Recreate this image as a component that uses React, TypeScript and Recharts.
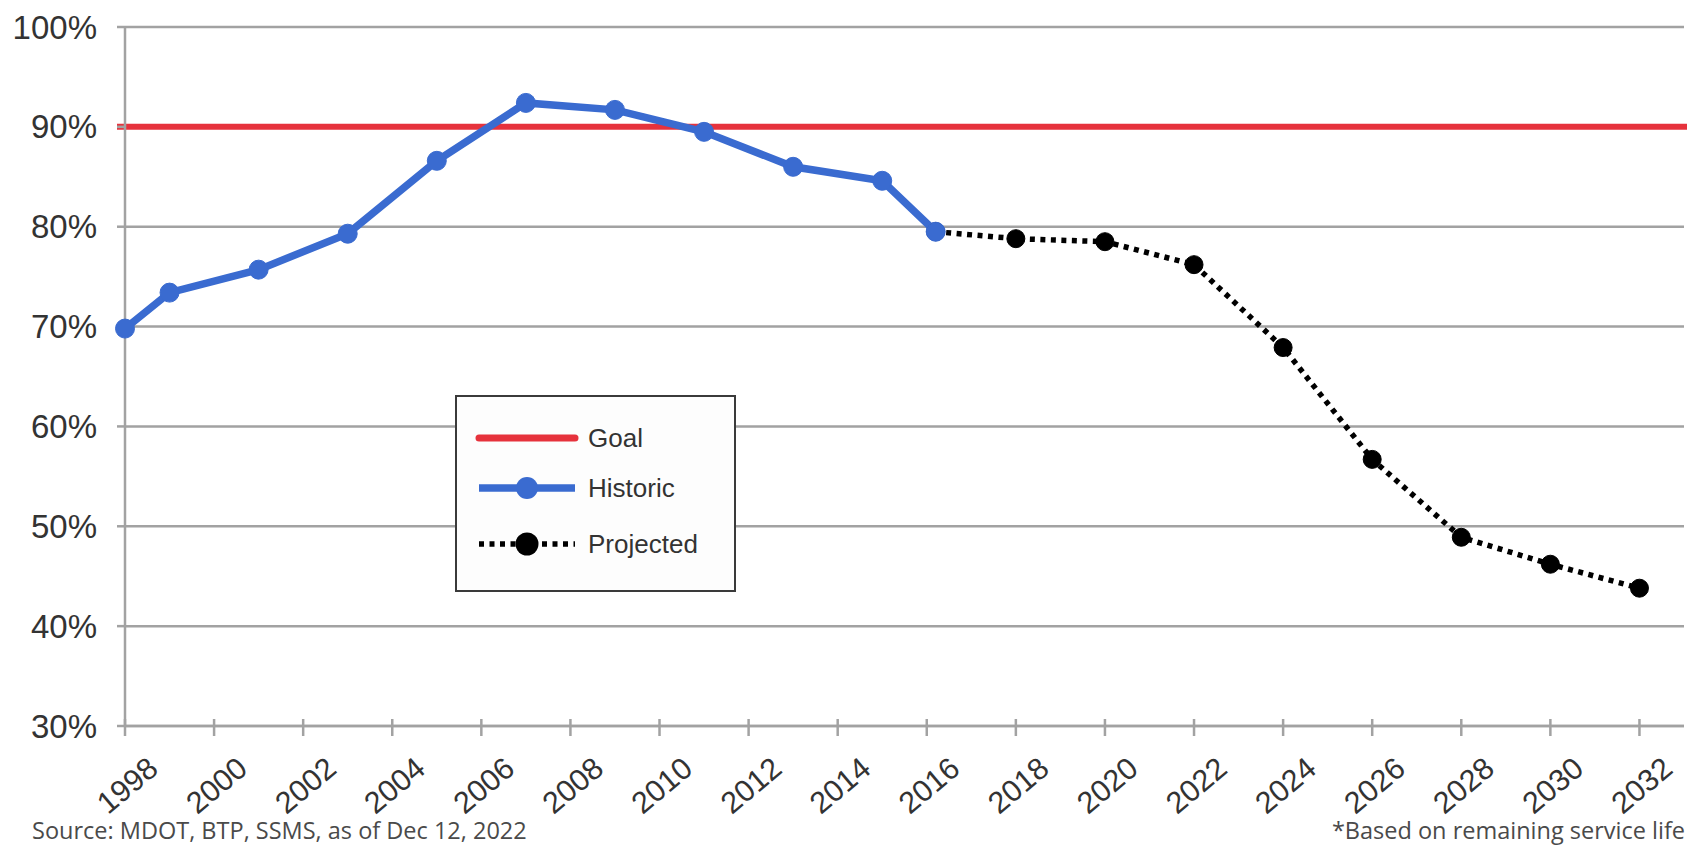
import React from 'react';
import { LineChart, Line, XAxis, YAxis, CartesianGrid, ReferenceLine, Legend } from 'recharts';

const historicYears = [1998, 1999, 2001, 2003, 2005, 2007, 2009, 2011, 2013, 2015, 2016.2];
const historicValues = [69.8, 73.4, 75.7, 79.3, 86.6, 92.4, 91.7, 89.5, 86.0, 84.6, 79.5];
const projectedYears = [2016.2, 2018, 2020, 2022, 2024, 2026, 2028, 2030, 2032];
const projectedValues = [79.5, 78.8, 78.5, 76.2, 67.9, 56.7, 48.9, 46.2, 43.8];
const goalValue = 90;
const xTicks = [1998, 2000, 2002, 2004, 2006, 2008, 2010, 2012, 2014, 2016, 2018, 2020, 2022, 2024, 2026, 2028, 2030, 2032];
const yTicks = [30, 40, 50, 60, 70, 80, 90, 100];
const seriesNames = ['Goal', 'Historic', 'Projected'];
const sourceNote = 'Source: MDOT, BTP, SSMS, as of Dec 12, 2022';
const footNote = '*Based on remaining service life';

const allYears = Array.from(new Set([...historicYears, ...projectedYears])).sort((a, b) => a - b);
const table = allYears.map((year) => {
  const hi = historicYears.indexOf(year);
  const pi = projectedYears.indexOf(year);
  return {
    year,
    historic: hi >= 0 ? historicValues[hi] : null,
    projected: pi >= 0 ? projectedValues[pi] : null,
  };
});

const RED = '#e6323c';
const BLUE = '#3a6bd0';
const GRID = '#a2a2a2';
const TEXT = '#333333';
const FONT = '"Liberation Sans", Arial, Helvetica, sans-serif';

const XTick = (props: any) => {
  const { x, y, payload } = props;
  const cy = y + 47;
  return (
    <g>
      <line x1={x} y1={y - 19} x2={x} y2={y - 12} stroke={GRID} strokeWidth={2.5} />
      <text
        x={x + 2}
        y={cy}
        textAnchor="middle"
        dominantBaseline="central"
        transform={`rotate(-40, ${x + 2}, ${cy})`}
        fontSize={30.5}
        fontFamily={FONT}
        fill={TEXT}
      >
        {payload.value}
      </text>
    </g>
  );
};

const YTick = (props: any) => {
  const { x, y, payload } = props;
  return (
    <text
      x={x - 18}
      y={y}
      textAnchor="end"
      dominantBaseline="central"
      fontSize={33}
      fontFamily={FONT}
      fill={TEXT}
    >
      {payload.value}%
    </text>
  );
};

const LegendBox = () => (
  <div
    style={{
      width: 281,
      height: 197,
      border: '2px solid #3a3a3a',
      background: '#fdfdfd',
      boxSizing: 'border-box',
    }}
  >
    <svg width={277} height={193} style={{ display: 'block' }}>
      <line x1={22} y1={41} x2={118} y2={41} stroke={RED} strokeWidth={7} strokeLinecap="round" />
      <text x={131} y={41} dominantBaseline="central" fontSize={26} fontFamily={FONT} fill={TEXT}>
        {seriesNames[0]}
      </text>
      <line x1={22} y1={91} x2={118} y2={91} stroke={BLUE} strokeWidth={7.5} />
      <circle cx={70} cy={91} r={11} fill={BLUE} />
      <text x={131} y={91} dominantBaseline="central" fontSize={26} fontFamily={FONT} fill={TEXT}>
        {seriesNames[1]}
      </text>
      <line x1={22} y1={147} x2={118} y2={147} stroke="#000" strokeWidth={5.5} strokeDasharray="5 5.5" />
      <circle cx={70} cy={147} r={11.5} fill="#000" />
      <text x={131} y={147} dominantBaseline="central" fontSize={26} fontFamily={FONT} fill={TEXT}>
        {seriesNames[2]}
      </text>
    </svg>
  </div>
);

const GoalShape = (p: any) => (
  <line x1={p.x1 - 8} y1={p.y1} x2={p.x2 + 3} y2={p.y2} stroke={RED} strokeWidth={6} />
);

export default function App() {
  return (
    <div style={{ position: 'relative', width: 1691, height: 849, background: '#fff' }}>
      <style>{`body{margin:0;background:#fff}`}</style>
      <LineChart
        width={1691}
        height={849}
        data={table}
        margin={{ top: 27, right: 7, bottom: 63, left: 0 }}
      >
        <CartesianGrid vertical={false} stroke={GRID} strokeWidth={2.5} />
        <XAxis
          dataKey="year"
          type="number"
          domain={[1998, 2033]}
          ticks={xTicks}
          interval={0}
          height={60}
          tickSize={10}
          axisLine={{ stroke: GRID, strokeWidth: 2.5 }}
          tickLine={{ stroke: GRID, strokeWidth: 2.5 }}
          tick={<XTick />}
        />
        <YAxis
          type="number"
          domain={[30, 100]}
          ticks={yTicks}
          interval={0}
          width={125}
          tickSize={8}
          axisLine={{ stroke: GRID, strokeWidth: 2.5 }}
          tickLine={{ stroke: GRID, strokeWidth: 2.5 }}
          tick={<YTick />}
        />
        <ReferenceLine y={goalValue} stroke={RED} strokeWidth={6} shape={GoalShape} />
        <Line
          dataKey="projected"
          name={seriesNames[2]}
          stroke="#000"
          strokeWidth={5.5}
          strokeDasharray="5 5.5"
          connectNulls
          dot={{ r: 9, fill: '#000', stroke: '#000', strokeWidth: 1, strokeDasharray: '0' }}
          isAnimationActive={false}
        />
        <Line
          dataKey="historic"
          name={seriesNames[1]}
          stroke={BLUE}
          strokeWidth={7.5}
          connectNulls
          dot={{ r: 9.5, fill: BLUE, stroke: BLUE, strokeWidth: 1 }}
          isAnimationActive={false}
        />
        <Legend
          layout="vertical"
          align="center"
          verticalAlign="middle"
          content={<LegendBox />}
          wrapperStyle={{ left: 455, top: 395, width: 281, height: 197 }}
        />
      </LineChart>
      <div
        style={{
          position: 'absolute',
          left: 32,
          top: 815,
          fontFamily: '"Open Sans", sans-serif',
          fontSize: 23.5,
          color: '#4a4a4a',
          whiteSpace: 'nowrap',
          lineHeight: '30px',
        }}
      >
        {sourceNote}
      </div>
      <div
        style={{
          position: 'absolute',
          right: 6,
          top: 815,
          fontFamily: '"Open Sans", sans-serif',
          fontSize: 23.5,
          color: '#4a4a4a',
          whiteSpace: 'nowrap',
          lineHeight: '30px',
        }}
      >
        {footNote}
      </div>
    </div>
  );
}
